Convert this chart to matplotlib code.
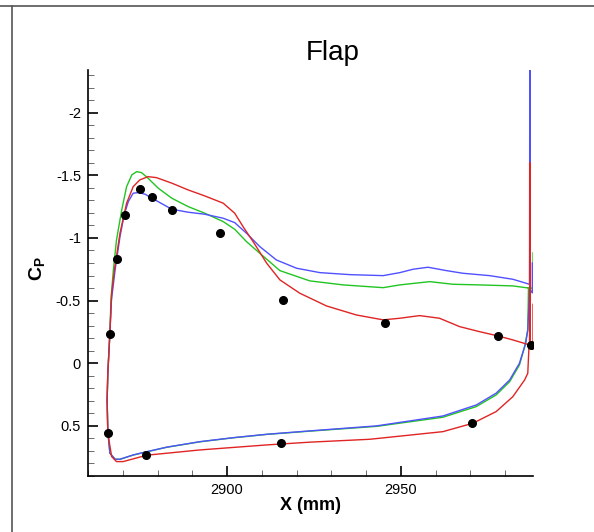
import matplotlib
matplotlib.use("Agg")
import matplotlib.pyplot as plt
from matplotlib.ticker import MultipleLocator
from matplotlib.lines import Line2D

plt.rcParams['font.family'] = ['Liberation Sans', 'DejaVu Sans']
plt.rcParams['mathtext.fontset'] = 'custom'
plt.rcParams['mathtext.rm'] = 'Liberation Sans'
plt.rcParams['mathtext.bf'] = 'Liberation Sans:bold'

# ---- data (x in mm, Cp) ----
blue_x = [2987.0, 2986.5, 2985.9, 2984.1, 2981.3, 2977.4, 2971.7, 2962.1, 2943.0, 2923.8,
          2911.4, 2901.8, 2892.2, 2882.6, 2876.9, 2873.0, 2869.2, 2867.8, 2866.3, 2865.7,
          2865.5, 2865.7, 2866.3, 2866.75, 2867.8, 2869.2, 2870.4, 2871.6, 2873.0, 2874.5,
          2876.4, 2879.3, 2884.1, 2888.8, 2893.6, 2898.9, 2902.2, 2905.6, 2909.4, 2914.2,
          2920.0, 2926.7, 2935.3, 2944.9, 2949.7, 2953.5, 2957.8, 2963.1, 2967.8, 2975.5,
          2982.2, 2987.0, 2987.1, 2987.2, 2987.8, 2987.8]
blue_cp = [-0.585, -0.266, -0.16, 0.0, 0.133, 0.239, 0.333, 0.421, 0.500, 0.540,
           0.567, 0.594, 0.626, 0.670, 0.706, 0.732, 0.766, 0.766, 0.718, 0.546,
           0.293, 0.080, -0.242, -0.505, -0.745, -1.010, -1.184, -1.290, -1.357, -1.362,
           -1.349, -1.303, -1.229, -1.205, -1.189, -1.157, -1.122, -1.037, -0.931, -0.824,
           -0.758, -0.723, -0.707, -0.699, -0.723, -0.750, -0.766, -0.739, -0.718, -0.699,
           -0.670, -0.630, -3.0, -0.585, -0.561, -0.80]

green_x = [2986.7, 2986.5, 2985.6, 2984.1, 2981.3, 2977.4, 2971.7, 2962.1, 2943.0, 2923.8,
           2911.4, 2901.8, 2892.2, 2882.6, 2876.9, 2873.0, 2869.2, 2867.8, 2866.3, 2865.7,
           2865.5, 2865.7, 2866.3, 2866.6, 2867.3, 2868.2, 2869.7, 2871.1, 2872.6, 2874.0,
           2875.4, 2877.3, 2880.2, 2884.1, 2888.8, 2893.6, 2898.9, 2902.2, 2905.6, 2909.4,
           2915.2, 2923.8, 2933.4, 2944.9, 2949.7, 2958.3, 2965.0, 2972.6, 2982.2, 2987.0,
           2988.0, 2988.0]
green_cp = [-0.601, -0.266, -0.132, 0.014, 0.147, 0.253, 0.346, 0.431, 0.504, 0.542,
            0.568, 0.595, 0.627, 0.671, 0.707, 0.733, 0.767, 0.767, 0.718, 0.546,
            0.293, 0.080, -0.242, -0.505, -0.745, -0.984, -1.223, -1.409, -1.503, -1.529,
            -1.521, -1.476, -1.397, -1.317, -1.250, -1.197, -1.130, -1.069, -0.970, -0.878,
            -0.739, -0.657, -0.625, -0.603, -0.625, -0.651, -0.630, -0.625, -0.617, -0.599,
            -0.60, -0.88]

red_x = [2986.9, 2986.8, 2986.5, 2985.6, 2982.2, 2977.4, 2970.7, 2962.1, 2941.0, 2923.8,
         2911.4, 2892.2, 2876.9, 2870.1, 2868.2, 2866.8, 2865.7, 2865.5, 2865.7, 2866.3,
         2866.8, 2867.6, 2869.2, 2871.1, 2873.0, 2874.9, 2877.3, 2879.7, 2884.1, 2888.8,
         2893.6, 2898.9, 2902.2, 2904.6, 2907.5, 2911.4, 2915.2, 2920.9, 2928.6, 2937.2,
         2944.9, 2949.7, 2955.4, 2961.1, 2966.9, 2972.6, 2977.9, 2982.2, 2987.0, 2987.1,
         2987.2, 2988.0, 2988.0]
red_cp = [-0.146, -0.107, 0.080, 0.133, 0.267, 0.386, 0.479, 0.546, 0.607, 0.630,
          0.652, 0.692, 0.734, 0.785, 0.785, 0.745, 0.559, 0.293, 0.080, -0.242,
          -0.559, -0.745, -1.037, -1.277, -1.409, -1.463, -1.489, -1.481, -1.437, -1.383,
          -1.335, -1.277, -1.197, -1.090, -0.970, -0.798, -0.665, -0.559, -0.457, -0.385,
          -0.346, -0.359, -0.380, -0.359, -0.292, -0.252, -0.218, -0.186, -0.146, -1.60,
          -0.146, -0.11, -0.47]

exp_x = [2865.7, 2866.3, 2868.3, 2870.5, 2874.9, 2878.3, 2884.3, 2898.1, 2916.2, 2945.3,
         2977.9, 2987.5, 2876.8, 2915.6, 2970.4]
exp_cp = [0.554, -0.234, -0.835, -1.186, -1.389, -1.325, -1.222, -1.043, -0.505, -0.324,
          -0.220, -0.146, 0.732, 0.636, 0.476]

x_major = [2900, 2950]
y_major = [-2, -1.5, -1, -0.5, 0, 0.5]
y_major_labels = ['-2', '-1.5', '-1', '-0.5', '0', '0.5']

# ---- figure ----
W, H = 594, 532
fig = plt.figure(figsize=(W / 100, H / 100), dpi=100)
ax = fig.add_axes([88 / W, 56 / H, 445 / W, 406 / H])

ax.plot(green_x, green_cp, color='#22c422', lw=1.0)
ax.plot(blue_x, blue_cp, color='#5050ff', lw=1.0)
ax.plot(red_x, red_cp, color='#e02424', lw=1.0)
ax.plot(exp_x, exp_cp, 'o', color='black', ms=5.5, ls='none')

ax.set_xlim(2860, 2988.0)
ax.set_ylim(0.9, -2.34)

for s in ['top', 'right']:
    ax.spines[s].set_visible(False)
for s in ['left', 'bottom']:
    ax.spines[s].set_linewidth(1.2)

ax.set_xticks(x_major)
ax.set_xticklabels([str(v) for v in x_major])
ax.set_yticks(y_major)
ax.set_yticklabels(y_major_labels)
ax.xaxis.set_minor_locator(MultipleLocator(10))
ax.yaxis.set_minor_locator(MultipleLocator(0.1))
ax.tick_params(which='major', direction='in', length=7, width=1.2, labelsize=10.5, pad=5)
ax.tick_params(which='minor', direction='in', length=4.5, width=0.6, color='#555555')

ax.set_xlabel('X (mm)', fontsize=13, fontweight='bold', va='center')
ax.xaxis.set_label_coords(0.5, (476 - 505) / 406)
ax.set_ylabel(r'$\mathbf{C_P}$', fontsize=14, va='center')
ax.yaxis.set_label_coords((37 - 88) / 445, (476 - 269) / 406)

fig.text(332.5 / W, (H - 60) / H, 'Flap', ha='center', va='baseline', fontsize=20)

# frame lines of the page
fig.add_artist(Line2D([0, 1], [(H - 6) / H, (H - 6) / H], transform=fig.transFigure,
                      color='#555555', lw=1.2))
fig.add_artist(Line2D([12 / W, 12 / W], [0, (H - 6) / H], transform=fig.transFigure,
                      color='#555555', lw=1.2))

fig.savefig('out.png', dpi=100)
